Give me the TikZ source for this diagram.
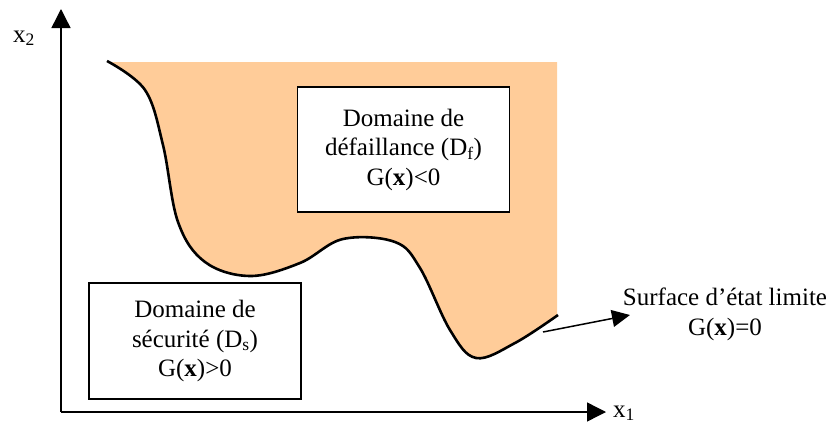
\documentclass[tikz,border=0pt]{standalone}
\usepackage{fontspec}
\setmainfont{Liberation Serif}
\usetikzlibrary{arrows.meta}
\definecolor{failfill}{RGB}{255,204,153}
\begin{document}
\begin{tikzpicture}[x=1pt,y=-1pt,
    box/.style = {draw, line width=1.3pt, fill=white, align=center, inner sep=0pt, minimum width=212pt},
    lbl/.style = {inner sep=0pt},
    font=\fontsize{25}{29.5}\selectfont]
    \useasboundingbox (0,0) rectangle (830,423);
    % domaine de defaillance
    \fill[failfill] plot[smooth, tension=0.6] coordinates {(107,61) (145,90) (163,145) (178,222) (205,262) (250,276) (300,263) (343,239) (395,242) (420,268) (450,330) (476,358) (515,343) (558,315)}
        -- (557,315) -- (557,62) -- (107,62) -- cycle;
    \draw[line width=2.6pt] plot[smooth, tension=0.6] coordinates {(107,61) (145,90) (163,145) (178,222) (205,262) (250,276) (300,263) (343,239) (395,242) (420,268) (450,330) (476,358) (515,343) (558,315)};
    % axes
    \coordinate (O) at (61,412);
    \coordinate (xend) at (606,412);
    \coordinate (yend) at (61,9);
    \draw[line width=1.4pt, -{Triangle[length=19pt,width=19pt]}] (O) -- (xend);
    \draw[line width=1.4pt, -{Triangle[length=19pt,width=19pt]}] (O) -- (yend);
    \node[lbl, anchor=base west] (x1) at (613,417) {x\textsubscript{1}};
    \node[lbl, anchor=base west] (x2) at (13,42) {x\textsubscript{2}};
    % boites
    \node[box, minimum height=125pt] (fail) at (403.5,149.5) {Domaine de\\d\'efaillance (D\textsubscript{f})\\G(\textbf{x})<0};
    \node[box, minimum height=116pt] (safe) at (195,341) {Domaine de\\s\'ecurit\'e (D\textsubscript{s})\\G(\textbf{x})>0};
    % surface d'etat limite
    \node[lbl, align=center, anchor=base] (surf) at (725,335) {Surface d’\'etat limite\\G(\textbf{x})=0};
    \coordinate (ls) at (543,332);
    \coordinate (tip) at (630,315);
    \draw[line width=1.5pt, -{Triangle[length=18pt,width=17pt]}] (ls) -- (tip);
\end{tikzpicture}
\end{document}
